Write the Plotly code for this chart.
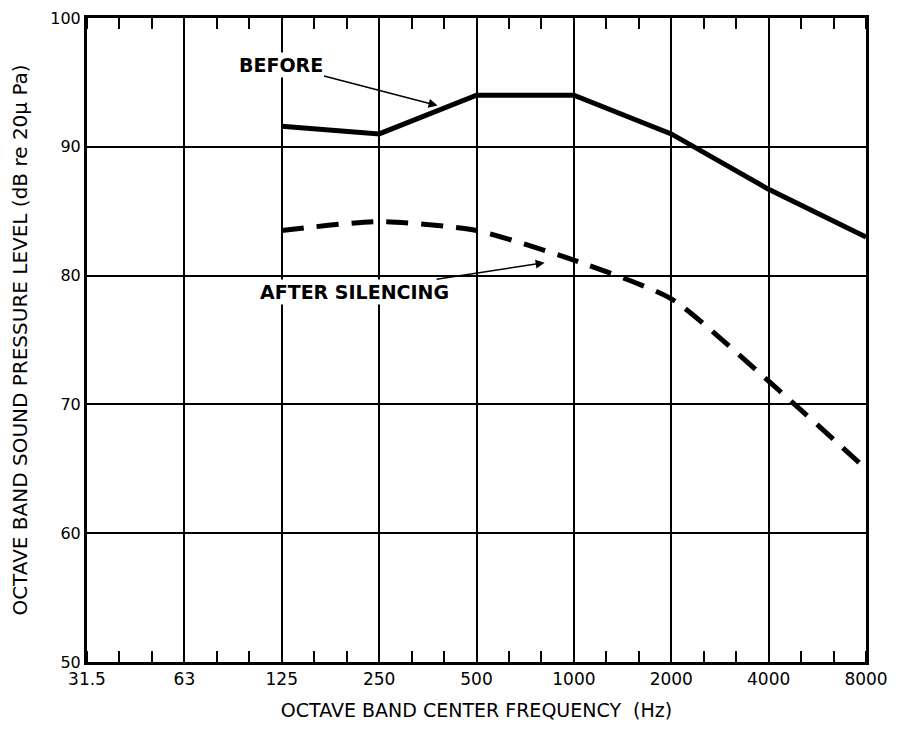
"""Octave band sound pressure level before and after silencing."""

import plotly.graph_objects as go

# Octave band centre frequencies (Hz) shown on the x axis
bands = ["31.5", "63", "125", "250", "500", "1000", "2000", "4000", "8000"]

# Measured levels, dB re 20 uPa
before_bands = ["125", "250", "500", "1000", "2000", "4000", "8000"]
before_levels = [91.6, 91.0, 94.0, 94.0, 91.0, 86.7, 83.0]

after_bands = ["125", "250", "500", "1000", "2000", "4000", "8000"]
after_levels = [83.5, 84.2, 83.5, 81.2, 78.2, 71.8, 65.0]

y_ticks = [50, 60, 70, 80, 90, 100]

FONT = "DejaVu Sans"

# position of each band on the category scale
band_pos = {b: i for i, b in enumerate(bands)}
before_x = [band_pos[b] for b in before_bands]
after_x = [band_pos[b] for b in after_bands]

fig = go.Figure()

fig.add_trace(go.Scatter(
    x=before_x,
    y=before_levels,
    mode="lines",
    line=dict(color="black", width=5),
    name="BEFORE",
    showlegend=False,
))

fig.add_trace(go.Scatter(
    x=after_x,
    y=after_levels,
    mode="lines",
    line=dict(color="black", width=5, dash="22px,13px", shape="spline", smoothing=0.6),
    name="AFTER SILENCING",
    showlegend=False,
))

# invisible trace to carry the top axis with third-octave ticks
fig.add_trace(go.Scatter(
    x=[0, len(bands) - 1],
    y=[50, 50],
    xaxis="x2",
    mode="lines",
    line=dict(width=0),
    hoverinfo="skip",
    showlegend=False,
))

# Label arrows
fig.add_annotation(
    x=3.6, y=93.2, xref="x", yref="y",
    ax=-157, ay=-41,
    text="<b>BEFORE</b>",
    showarrow=True, arrowhead=2, arrowsize=1.2, arrowwidth=1.5,
    arrowcolor="black", standoff=0,
    font=dict(family=FONT, size=19, color="black"),
    bgcolor="white",
)
fig.add_annotation(
    x=4.7, y=81.0, xref="x", yref="y",
    ax=-190, ay=29,
    text="<b>AFTER SILENCING</b>",
    showarrow=True, arrowhead=2, arrowsize=1.2, arrowwidth=1.5,
    arrowcolor="black", standoff=0,
    font=dict(family=FONT, size=19, color="black"),
    bgcolor="white",
)

axis_common = dict(
    showline=True,
    linecolor="black",
    linewidth=3,
    zeroline=False,
    automargin=False,
    ticklabeloverflow="allow",
)

# page body has an 8px margin, so the figure is sized to fit inside it
fig.update_layout(
    width=881,
    height=713,
    margin=dict(l=79, r=23, t=10, b=59),
    paper_bgcolor="white",
    plot_bgcolor="white",
    font=dict(family=FONT, size=16, color="black"),
    xaxis=dict(
        **axis_common,
        range=[0, len(bands) - 1],
        tickmode="array",
        tickvals=list(range(len(bands))),
        ticktext=bands,
        ticks="",
        showgrid=True,
        gridcolor="black",
        gridwidth=2,
        mirror=True,
        minor=dict(dtick=1 / 3, tick0=0, ticks="inside", ticklen=11,
                   tickwidth=2, tickcolor="black", showgrid=False),
        title=dict(text="OCTAVE BAND CENTER FREQUENCY  (Hz)", standoff=19,
                   font=dict(size=19)),
        tickfont=dict(size=17),
    ),
    xaxis2=dict(
        overlaying="x",
        side="top",
        range=[0, len(bands) - 1],
        showticklabels=False,
        showgrid=False,
        zeroline=False,
        automargin=False,
        ticks="",
        tickmode="array",
        tickvals=list(range(len(bands))),
        minor=dict(dtick=1 / 3, tick0=0, ticks="inside", ticklen=11,
                   tickwidth=2, tickcolor="black", showgrid=False),
    ),
    yaxis=dict(
        **axis_common,
        range=[50, 100],
        tickmode="array",
        tickvals=y_ticks,
        ticks="",
        showgrid=True,
        gridcolor="black",
        gridwidth=2,
        mirror=True,
        title=dict(text="OCTAVE BAND SOUND PRESSURE LEVEL (dB re 20\u03bc Pa)",
                   standoff=26, font=dict(size=20)),
        tickfont=dict(size=16),
    ),
)

fig.write_html("out.html")
